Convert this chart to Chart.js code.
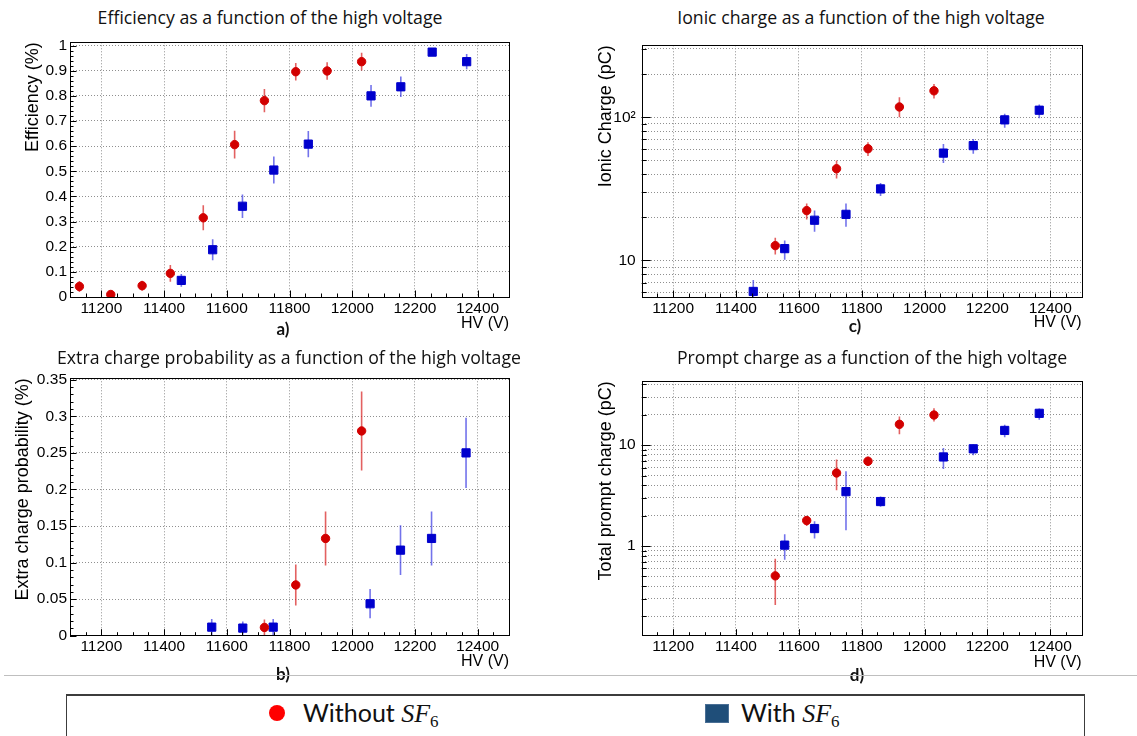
<!DOCTYPE html>
<html>
<head>
<meta charset="utf-8">
<script src="https://cdn.jsdelivr.net/npm/chart.js@4.4.1/dist/chart.umd.min.js"></script>
<style>
    body { margin: 0; width: 1137px; height: 736px; background: #fff; position: relative; overflow: hidden; }
    .panel { position: absolute; }
    .title { position: absolute; transform: translateX(-50%); white-space: nowrap; font-family: 'Open Sans', 'Noto Sans', sans-serif; font-size: 17.7px; line-height: 20px; color: #111; }
    .tag { position: absolute; transform: translate(-50%, -50%); font-family: Lato, sans-serif; font-weight: bold; font-size: 17px; color: #111; }
    #sep { position: absolute; left: 4px; top: 675px; width: 1133px; height: 1px; background: #bfbfbf; }
    #legend-box { position: absolute; left: 66px; top: 694px; width: 1017px; height: 60px; border: 1.5px solid #3c3c3c; border-top-width: 2.5px; border-bottom: none; }
    .leg-dot { position: absolute; width: 16px; height: 16px; border-radius: 50%; background: #ff0000; }
    .leg-sq { position: absolute; width: 22px; height: 17px; background: #1f4e79; border: 0.5px solid #4a6f95; }
    .leg-text { position: absolute; font-family: Lato, sans-serif; font-size: 25px; line-height: 30px; color: #111; white-space: nowrap; }
    .math { font-family: 'Liberation Serif', 'DejaVu Serif', serif; font-style: italic; font-size: 26px; }
    .math sub { font-style: normal; font-size: 17px; vertical-align: -5px; }
</style>
</head>
<body>
<div class="panel" style="left:0px;top:30px;width:530px;height:312px"><canvas id="chartA"></canvas></div>
<div class="panel" style="left:0px;top:366px;width:530px;height:312px"><canvas id="chartB"></canvas></div>
<div class="panel" style="left:560px;top:30px;width:540px;height:312px"><canvas id="chartC"></canvas></div>
<div class="panel" style="left:560px;top:366px;width:540px;height:312px"><canvas id="chartD"></canvas></div>

<div class="title" style="left:270px;top:7px">Efficiency as a function of the high voltage</div>
<div class="title" style="left:289px;top:347px">Extra charge probability as a function of the high voltage</div>
<div class="title" style="left:861px;top:7px">Ionic charge as a function of the high voltage</div>
<div class="title" style="left:872px;top:347px">Prompt charge as a function of the high voltage</div>

<div class="tag" style="left:283px;top:328px">a)</div>
<div class="tag" style="left:283px;top:673px">b)</div>
<div class="tag" style="left:855px;top:325px">c)</div>
<div class="tag" style="left:857px;top:674px">d)</div>

<div id="sep"></div>
<div id="legend-box"></div>
<div class="leg-dot" style="left:269px;top:705px"></div>
<div class="leg-text" style="left:303px;top:697px">Without <span class="math">SF<sub>6</sub></span></div>
<div class="leg-sq" style="left:705px;top:704px"></div>
<div class="leg-text" style="left:741px;top:697px">With <span class="math">SF<sub>6</sub></span></div>

<script>
// --- Axis ticks ---
const hvTicks = [11200, 11400, 11600, 11800, 12000, 12200, 12400];
const effTicks = [0, 0.1, 0.2, 0.3, 0.4, 0.5, 0.6, 0.7, 0.8, 0.9, 1];
const extraTicks = [0, 0.05, 0.1, 0.15, 0.2, 0.25, 0.3, 0.35];
const ionicGrid = [6, 7, 8, 9, 10, 20, 30, 40, 50, 60, 70, 80, 90, 100, 200, 300];
const ionicLabels = { 10: '10', 100: '10²' };
const promptGrid = [0.2, 0.3, 0.4, 0.5, 0.6, 0.7, 0.8, 0.9, 1, 2, 3, 4, 5, 6, 7, 8, 9, 10, 20, 30, 40];
const promptLabels = { 1: '1', 10: '10' };

// --- a) Efficiency ---
const effHvRed = [11130, 11230, 11330, 11420, 11525, 11625, 11720, 11820, 11920, 12030];
const effRed = [0.042, 0.010, 0.045, 0.094, 0.315, 0.606, 0.781, 0.896, 0.899, 0.936];
const effRedErr = [0.022, 0.010, 0.020, 0.033, 0.050, 0.055, 0.046, 0.035, 0.035, 0.035];
const effHvBlue = [11455, 11555, 11650, 11750, 11860, 12060, 12155, 12255, 12365];
const effBlue = [0.066, 0.188, 0.361, 0.505, 0.608, 0.800, 0.836, 0.974, 0.936];
const effBlueErr = [0.025, 0.042, 0.047, 0.054, 0.052, 0.043, 0.041, 0.015, 0.030];

// --- b) Extra charge probability ---
const extraHvRed = [11720, 11820, 11915, 12030];
const extraRed = [0.0113, 0.0694, 0.133, 0.280];
const extraRedErr = [0.011, 0.028, 0.037, 0.054];
const extraHvBlue = [11552, 11651, 11748, 12057, 12154, 12253, 12363];
const extraBlue = [0.0117, 0.0104, 0.0117, 0.0437, 0.117, 0.133, 0.250];
const extraBlueErr = [0.011, 0.009, 0.011, 0.020, 0.034, 0.037, 0.048];

// --- c) Ionic charge ---
const ionHvRed = [11525, 11625, 11720, 11820, 11920, 12030];
const ionRed = [12.7, 22.3, 43.7, 60.3, 118, 153];
const ionRedLo = [11.0, 19.3, 37.3, 53.6, 100, 135];
const ionRedHi = [14.4, 25.0, 50.0, 66.8, 138, 171];
const ionHvBlue = [11455, 11555, 11650, 11750, 11860, 12060, 12155, 12255, 12365];
const ionBlue = [6.08, 12.1, 19.1, 21.0, 31.6, 56.2, 63.4, 95.9, 112];
const ionBlueLo = [5.0, 10.1, 15.9, 17.2, 28.2, 48, 55.7, 84.5, 98.5];
const ionBlueHi = [7.3, 13.8, 22.3, 25.0, 34.7, 65, 70.5, 106, 123];

// --- d) Prompt charge ---
const promptHvRed = [11525, 11625, 11720, 11820, 11920, 12030];
const promptRed = [0.506, 1.79, 5.30, 6.93, 16.1, 19.9];
const promptRedLo = [0.26, 1.58, 3.57, 6.2, 12.8, 17.2];
const promptRedHi = [0.747, 1.97, 7.2, 7.7, 19.2, 23.3];
const promptHvBlue = [11555, 11650, 11750, 11860, 12060, 12155, 12255, 12365];
const promptBlue = [1.02, 1.49, 3.46, 2.76, 7.64, 9.21, 14.0, 20.7];
const promptBlueLo = [0.73, 1.19, 1.43, 2.45, 5.8, 7.95, 12.0, 17.9];
const promptBlueHi = [1.31, 1.76, 5.5, 3.1, 9.4, 10.15, 15.9, 23.1];

// minor tick positions (ROOT style)
function steps(from, to, step) {
    const out = [];
    for (let v = from; v <= to + 1e-9; v += step) out.push(Math.round(v * 1000) / 1000);
    return out;
}
const hvMinor = steps(11100, 12500, 50);

Chart.defaults.font.family = "'Liberation Sans', Arial, sans-serif";
Chart.defaults.color = '#000';

// --- Plugin: error bars, frame and inner ticks ---
const rootFrame = {
    id: 'rootFrame',
    beforeDatasetsDraw(chart) {
        const { ctx, chartArea: a } = chart;
        const ys = chart.scales.y;
        ctx.save();
        ctx.beginPath();
        ctx.rect(a.left, a.top, a.right - a.left, a.bottom - a.top);
        ctx.clip();
        chart.data.datasets.forEach((ds, i) => {
            const meta = chart.getDatasetMeta(i);
            ctx.strokeStyle = ds.errColor;
            ctx.lineWidth = 1.6;
            meta.data.forEach((pt, j) => {
                ctx.beginPath();
                ctx.moveTo(pt.x, ys.getPixelForValue(ds.yLow[j]));
                ctx.lineTo(pt.x, ys.getPixelForValue(ds.yHigh[j]));
                ctx.stroke();
            });
        });
        ctx.restore();
    },
    afterDraw(chart, args, opts) {
        const { ctx, chartArea: a } = chart;
        const xs = chart.scales.x, ys = chart.scales.y;
        ctx.save();
        ctx.strokeStyle = '#000';
        ctx.lineWidth = 1;
        const tickX = (vals, len) => vals.forEach(v => {
            if (v < xs.min || v > xs.max) return;
            const px = Math.round(xs.getPixelForValue(v)) + 0.5;
            ctx.beginPath(); ctx.moveTo(px, a.bottom); ctx.lineTo(px, a.bottom - len); ctx.stroke();
        });
        const tickY = (vals, len) => vals.forEach(v => {
            if (v < ys.min || v > ys.max) return;
            const py = Math.round(ys.getPixelForValue(v)) + 0.5;
            ctx.beginPath(); ctx.moveTo(a.left, py); ctx.lineTo(a.left + len, py); ctx.stroke();
        });
        tickX(hvMinor, 3.5);
        tickX(hvTicks, 6.5);
        tickY(opts.yMinor, opts.minorLen);
        tickY(opts.yMajor, opts.majorLen);
        ctx.strokeRect(Math.round(a.left) + 0.5, Math.round(a.top) + 0.5,
            Math.round(a.right - a.left), Math.round(a.bottom - a.top));
        ctx.restore();
    }
};

function pts(xs, ys) { return xs.map((x, i) => ({ x: x, y: ys[i] })); }

function redSet(xs, ys, lo, hi) {
    return {
        data: pts(xs, ys), yLow: lo, yHigh: hi,
        backgroundColor: 'rgb(210,0,0)', borderColor: 'rgb(210,0,0)', errColor: 'rgba(215,30,30,0.7)',
        pointStyle: 'circle', pointRadius: 4.2, pointBorderWidth: 1
    };
}
function blueSet(xs, ys, lo, hi) {
    return {
        data: pts(xs, ys), yLow: lo, yHigh: hi,
        backgroundColor: 'rgb(0,0,205)', borderColor: 'rgb(0,0,205)', errColor: 'rgba(40,40,225,0.65)',
        pointStyle: 'rect', pointRadius: 5.8, pointBorderWidth: 1
    };
}

const gridStyle = { color: '#8f8f8f', lineWidth: 1, drawTicks: false };

function makePanel(id, p) {
    return new Chart(document.getElementById(id).getContext('2d'), {
        type: 'scatter',
        data: { datasets: p.datasets },
        plugins: [rootFrame],
        options: {
            responsive: true,
            maintainAspectRatio: false,
            animation: false,
            layout: { padding: { top: p.padTop, right: p.padRight, left: 0, bottom: 0 } },
            plugins: {
                legend: { display: false },
                tooltip: { enabled: false },
                rootFrame: { yMajor: p.yMajor, yMinor: p.yMinor, majorLen: p.majorLen, minorLen: p.minorLen }
            },
            scales: {
                x: {
                    type: 'linear', min: 11100, max: 12500,
                    afterBuildTicks: s => { s.ticks = hvTicks.map(v => ({ value: v })); },
                    afterFit: s => { s.height = p.xHeight; },
                    grid: gridStyle,
                    border: { display: false, dash: [1, 2] },
                    ticks: { font: { size: 15.5 }, color: '#000', padding: 2, autoSkip: false, maxRotation: 0, callback: v => String(v) },
                    title: { display: true, text: 'HV (V)', align: 'end', font: { size: 16 }, color: '#000', padding: { top: 0, bottom: p.xTitlePad } }
                },
                y: {
                    type: p.yType, min: p.yMin, max: p.yMax,
                    afterBuildTicks: s => { s.ticks = p.yGrid.map(v => ({ value: v })); },
                    afterFit: s => { s.width = p.yWidth; },
                    grid: gridStyle,
                    border: { display: false, dash: [1, 2] },
                    ticks: { font: { size: 15.5 }, color: '#000', padding: p.yTickPad, autoSkip: false, callback: p.yLabel },
                    title: { display: true, text: p.yTitle, align: 'end', font: { size: 18 }, color: '#000', padding: { top: p.yTitlePad, bottom: 0 } }
                }
            }
        }
    });
}

// --- Panels ---
makePanel('chartA', {
    datasets: [
        redSet(effHvRed, effRed, effRed.map((v, i) => v - effRedErr[i]), effRed.map((v, i) => v + effRedErr[i])),
        blueSet(effHvBlue, effBlue, effBlue.map((v, i) => v - effBlueErr[i]), effBlue.map((v, i) => v + effBlueErr[i]))
    ],
    padTop: 9, padRight: 21, xHeight: 45, xTitlePad: 9, yWidth: 70, yTitlePad: 22, yTickPad: 3,
    yType: 'linear', yMin: 0, yMax: 1.013, yGrid: effTicks,
    yMajor: effTicks, yMinor: steps(0, 1, 0.02), majorLen: 6.5, minorLen: 3.5,
    yLabel: v => String(v), yTitle: 'Efficiency (%)'
});

makePanel('chartB', {
    datasets: [
        redSet(extraHvRed, extraRed, extraRed.map((v, i) => v - extraRedErr[i]), extraRed.map((v, i) => v + extraRedErr[i])),
        blueSet(extraHvBlue, extraBlue, extraBlue.map((v, i) => v - extraBlueErr[i]), extraBlue.map((v, i) => v + extraBlueErr[i]))
    ],
    padTop: 9, padRight: 21, xHeight: 42.3, xTitlePad: 7, yWidth: 70, yTitlePad: 12.4, yTickPad: 3,
    yType: 'linear', yMin: 0, yMax: 0.352, yGrid: extraTicks,
    yMajor: extraTicks, yMinor: steps(0, 0.35, 0.01), majorLen: 6.5, minorLen: 3.5,
    yLabel: v => String(v), yTitle: 'Extra charge probability (%)'
});

makePanel('chartC', {
    datasets: [
        redSet(ionHvRed, ionRed, ionRedLo, ionRedHi),
        blueSet(ionHvBlue, ionBlue, ionBlueLo, ionBlueHi)
    ],
    padTop: 9, padRight: 18.3, xHeight: 45, xTitlePad: 10.3, yWidth: 81.7, yTitlePad: 35, yTickPad: 6,
    yType: 'logarithmic', yMin: 5.56, yMax: 318, yGrid: ionicGrid,
    yMajor: [10, 100], yMinor: ionicGrid, majorLen: 9, minorLen: 5,
    yLabel: v => ionicLabels[v] || '', yTitle: 'Ionic Charge (pC)'
});

makePanel('chartD', {
    datasets: [
        redSet(promptHvRed, promptRed, promptRedLo, promptRedHi),
        blueSet(promptHvBlue, promptBlue, promptBlueLo, promptBlueHi)
    ],
    padTop: 10.7, padRight: 18.3, xHeight: 42.3, xTitlePad: 6.3, yWidth: 81.7, yTitlePad: 35, yTickPad: 6,
    yType: 'logarithmic', yMin: 0.129, yMax: 43, yGrid: promptGrid,
    yMajor: [1, 10], yMinor: promptGrid, majorLen: 9, minorLen: 5,
    yLabel: v => promptLabels[v] || '', yTitle: 'Total prompt charge (pC)'
});
</script>
</body>
</html>
